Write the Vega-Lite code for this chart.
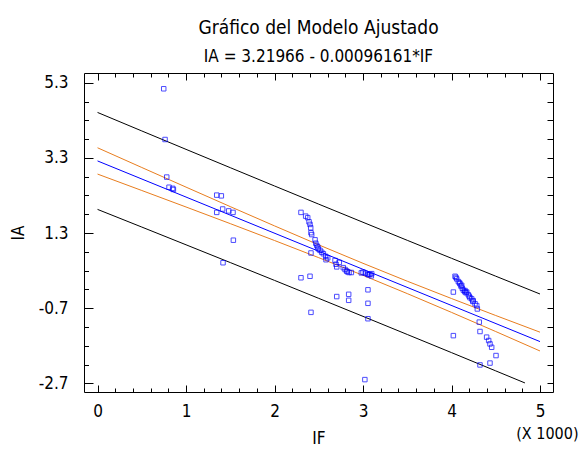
{
  "$schema": "https://vega.github.io/schema/vega-lite/v6.json",
  "width": 469,
  "height": 319,
  "autosize": {"type": "none"},
  "padding": {"left": 84, "top": 73, "right": 28, "bottom": 57},
  "background": "white",
  "title": {
    "text": "Gráfico del Modelo Ajustado",
    "subtitle": "IA = 3.21966 - 0.00096161*IF",
    "font": "Liberation Sans Narrow, DejaVu Sans Condensed, sans-serif",
    "subtitleFont": "Liberation Sans Narrow, DejaVu Sans Condensed, sans-serif",
    "fontSize": 19,
    "subtitleFontSize": 17,
    "fontWeight": "normal",
    "color": "black",
    "subtitleColor": "black",
    "anchor": "middle",
    "frame": "group",
    "offset": 8,
    "subtitlePadding": 11
  },
  "config": {
    "view": {"stroke": "black", "strokeWidth": 1},
    "axis": {
      "domain": false,
      "grid": false,
      "tickColor": "black",
      "tickWidth": 1,
      "labelColor": "black",
      "titleColor": "black",
      "labelFont": "Liberation Sans Narrow, DejaVu Sans Condensed, sans-serif",
      "titleFont": "Liberation Sans Narrow, DejaVu Sans Condensed, sans-serif",
      "labelFontSize": 17,
      "titleFontSize": 17,
      "titleFontWeight": "normal"
    }
  },
  "datasets": {
    "pts": [
      {"IF": 748, "IA": 5.14}, {"IF": 763, "IA": 3.79}, {"IF": 782, "IA": 2.79}, {"IF": 808, "IA": 2.52},
      {"IF": 849, "IA": 2.49}, {"IF": 857, "IA": 2.46}, {"IF": 1347, "IA": 2.31}, {"IF": 1399, "IA": 2.29},
      {"IF": 1347, "IA": 1.85}, {"IF": 1414, "IA": 1.94}, {"IF": 1482, "IA": 1.89}, {"IF": 1531, "IA": 1.85},
      {"IF": 1535, "IA": 1.11}, {"IF": 1418, "IA": 0.51},
      {"IF": 2299, "IA": 1.85}, {"IF": 2352, "IA": 1.75}, {"IF": 2375, "IA": 1.71}, {"IF": 2390, "IA": 1.6},
      {"IF": 2401, "IA": 1.53}, {"IF": 2409, "IA": 1.44}, {"IF": 2412, "IA": 1.31}, {"IF": 2420, "IA": 1.26},
      {"IF": 2458, "IA": 1.12}, {"IF": 2466, "IA": 1.03}, {"IF": 2477, "IA": 0.97}, {"IF": 2488, "IA": 0.93},
      {"IF": 2495, "IA": 0.88}, {"IF": 2514, "IA": 0.84}, {"IF": 2533, "IA": 0.79}, {"IF": 2552, "IA": 0.75},
      {"IF": 2578, "IA": 0.68}, {"IF": 2601, "IA": 0.64}, {"IF": 2582, "IA": 0.59}, {"IF": 2412, "IA": 0.77},
      {"IF": 2299, "IA": 0.11}, {"IF": 2401, "IA": 0.15}, {"IF": 2412, "IA": -0.81},
      {"IF": 2684, "IA": 0.57}, {"IF": 2695, "IA": 0.47}, {"IF": 2703, "IA": 0.4}, {"IF": 2732, "IA": 0.52},
      {"IF": 2777, "IA": 0.38}, {"IF": 2797, "IA": 0.33}, {"IF": 2815, "IA": 0.29}, {"IF": 2823, "IA": 0.27},
      {"IF": 2842, "IA": 0.25}, {"IF": 2868, "IA": 0.25}, {"IF": 2703, "IA": -0.39}, {"IF": 2838, "IA": -0.33},
      {"IF": 2838, "IA": -0.49},
      {"IF": 2981, "IA": 0.24}, {"IF": 3000, "IA": 0.26}, {"IF": 3026, "IA": 0.23}, {"IF": 3053, "IA": 0.2},
      {"IF": 3064, "IA": 0.19}, {"IF": 3079, "IA": 0.2}, {"IF": 3094, "IA": 0.16}, {"IF": 3098, "IA": 0.22},
      {"IF": 3056, "IA": -0.21}, {"IF": 3056, "IA": -0.57}, {"IF": 3056, "IA": -0.98}, {"IF": 3021, "IA": -2.6},
      {"IF": 4040, "IA": 0.15}, {"IF": 4050, "IA": 0.12}, {"IF": 4059, "IA": 0.08}, {"IF": 4077, "IA": 0.01},
      {"IF": 4090, "IA": -0.02}, {"IF": 4096, "IA": -0.05}, {"IF": 4107, "IA": -0.11}, {"IF": 4115, "IA": -0.09},
      {"IF": 4122, "IA": -0.17}, {"IF": 4134, "IA": -0.22}, {"IF": 4149, "IA": -0.26}, {"IF": 4153, "IA": -0.23},
      {"IF": 4164, "IA": -0.29}, {"IF": 4172, "IA": -0.27}, {"IF": 4190, "IA": -0.34}, {"IF": 4200, "IA": -0.38},
      {"IF": 4209, "IA": -0.42}, {"IF": 4228, "IA": -0.45}, {"IF": 4240, "IA": -0.52}, {"IF": 4246, "IA": -0.5},
      {"IF": 4266, "IA": -0.58}, {"IF": 4285, "IA": -0.63}, {"IF": 4292, "IA": -0.72}, {"IF": 4021, "IA": -0.27},
      {"IF": 4314, "IA": -1.07}, {"IF": 4322, "IA": -1.32}, {"IF": 4021, "IA": -1.43}, {"IF": 4397, "IA": -1.47},
      {"IF": 4420, "IA": -1.56}, {"IF": 4435, "IA": -1.65}, {"IF": 4454, "IA": -1.74}, {"IF": 4503, "IA": -1.96},
      {"IF": 4435, "IA": -2.16}, {"IF": 4322, "IA": -2.21}
    ],
    "fit": [
      {"IF": 0, "IA": 3.2197}, {"IF": 5000, "IA": -1.5884}
    ],
    "conf": [
      {"s": "u", "IF": 0, "IA": 3.57}, {"s": "u", "IF": 500, "IA": 3.045}, {"s": "u", "IF": 1000, "IA": 2.523},
      {"s": "u", "IF": 1500, "IA": 2.004}, {"s": "u", "IF": 2000, "IA": 1.491}, {"s": "u", "IF": 2500, "IA": 0.986},
      {"s": "u", "IF": 3000, "IA": 0.495}, {"s": "u", "IF": 3500, "IA": 0.019}, {"s": "u", "IF": 4000, "IA": -0.442},
      {"s": "u", "IF": 4500, "IA": -0.894}, {"s": "u", "IF": 5000, "IA": -1.338},
      {"s": "l", "IF": 0, "IA": 2.87}, {"s": "l", "IF": 500, "IA": 2.433}, {"s": "l", "IF": 1000, "IA": 1.994},
      {"s": "l", "IF": 1500, "IA": 1.551}, {"s": "l", "IF": 2000, "IA": 1.102}, {"s": "l", "IF": 2500, "IA": 0.645},
      {"s": "l", "IF": 3000, "IA": 0.175}, {"s": "l", "IF": 3500, "IA": -0.311}, {"s": "l", "IF": 4000, "IA": -0.811},
      {"s": "l", "IF": 4500, "IA": -1.321}, {"s": "l", "IF": 5000, "IA": -1.838}
    ],
    "pred": [
      {"s": "u", "IF": 0, "IA": 4.51}, {"s": "u", "IF": 500, "IA": 4.018}, {"s": "u", "IF": 1000, "IA": 3.528},
      {"s": "u", "IF": 1500, "IA": 3.04}, {"s": "u", "IF": 2000, "IA": 2.553}, {"s": "u", "IF": 2500, "IA": 2.069},
      {"s": "u", "IF": 3000, "IA": 1.587}, {"s": "u", "IF": 3500, "IA": 1.107}, {"s": "u", "IF": 4000, "IA": 0.629},
      {"s": "u", "IF": 4500, "IA": 0.152}, {"s": "u", "IF": 5000, "IA": -0.322},
      {"s": "l", "IF": 0, "IA": 1.93}, {"s": "l", "IF": 500, "IA": 1.46}, {"s": "l", "IF": 1000, "IA": 0.988},
      {"s": "l", "IF": 1500, "IA": 0.515}, {"s": "l", "IF": 2000, "IA": 0.04}, {"s": "l", "IF": 2500, "IA": -0.438},
      {"s": "l", "IF": 3000, "IA": -0.917}, {"s": "l", "IF": 3500, "IA": -1.399}, {"s": "l", "IF": 4000, "IA": -1.882},
      {"s": "l", "IF": 4500, "IA": -2.368}, {"s": "l", "IF": 4830, "IA": -2.689}
    ]
  },
  "resolve": {"axis": {"x": "independent", "y": "independent"}},
  "layer": [
    {
      "data": {"name": "pred"},
      "mark": {"type": "line", "color": "black", "strokeWidth": 1},
      "encoding": {
        "x": {"field": "IF", "type": "quantitative", "scale": {"domain": [-153, 5147], "nice": false, "zero": false},
          "axis": {"orient": "bottom", "values": [0, 1000, 2000, 3000, 4000, 5000], "labelExpr": "format(datum.value/1000, 'd')", "tickSize": -7, "labelPadding": 18, "title": "IF", "titlePadding": 11}},
        "y": {"field": "IA", "type": "quantitative", "scale": {"domain": [-2.93, 5.56], "nice": false, "zero": false},
          "axis": {"orient": "left", "values": [-2.7, -0.7, 1.3, 3.3, 5.3], "labelExpr": "(datum.value < 0 ? '-' : '') + format(abs(datum.value), '.1f')", "tickSize": -9, "labelPadding": 25, "title": "IA", "titlePadding": 11}},
        "detail": {"field": "s"}
      }
    },
    {
      "data": {"name": "conf"},
      "mark": {"type": "line", "color": "#e87d1e", "strokeWidth": 1},
      "encoding": {
        "x": {"field": "IF", "type": "quantitative", "scale": {"domain": [-153, 5147], "nice": false, "zero": false},
          "axis": {"orient": "bottom", "values": [0, 200, 400, 600, 800, 1000, 1200, 1400, 1600, 1800, 2000, 2200, 2400, 2600, 2800, 3000, 3200, 3400, 3600, 3800, 4000, 4200, 4400, 4600, 4800, 5000], "labels": false, "tickSize": -4, "title": "(X 1000)", "titleFontSize": 16, "titleAnchor": "end", "titleAlign": "right", "titleBaseline": "middle", "titleX": 494, "titleY": 41}},
        "y": {"field": "IA", "type": "quantitative", "scale": {"domain": [-2.93, 5.56], "nice": false, "zero": false},
          "axis": {"orient": "left", "values": [-2.7, -2.2, -1.7, -1.2, -0.7, -0.2, 0.3, 0.8, 1.3, 1.8, 2.3, 2.8, 3.3, 3.8, 4.3, 4.8, 5.3], "labels": false, "tickSize": -4.5, "title": null}},
        "detail": {"field": "s"}
      }
    },
    {
      "data": {"name": "fit"},
      "mark": {"type": "line", "color": "#0000ff", "strokeWidth": 1},
      "encoding": {
        "x": {"field": "IF", "type": "quantitative", "scale": {"domain": [-153, 5147], "nice": false, "zero": false},
          "axis": {"orient": "top", "values": [0, 1000, 2000, 3000, 4000, 5000], "labels": false, "tickSize": -7, "title": null}},
        "y": {"field": "IA", "type": "quantitative", "scale": {"domain": [-2.93, 5.56], "nice": false, "zero": false},
          "axis": {"orient": "right", "values": [-2.7, -2.2, -1.7, -1.2, -0.7, -0.2, 0.3, 0.8, 1.3, 1.8, 2.3, 2.8, 3.3, 3.8, 4.3, 4.8, 5.3], "labels": false, "tickSize": -6, "title": null}}
      }
    },
    {
      "data": {"name": "pts"},
      "mark": {"type": "square", "filled": false, "color": "#0000ff", "size": 20, "strokeWidth": 1},
      "encoding": {
        "x": {"field": "IF", "type": "quantitative", "scale": {"domain": [-153, 5147], "nice": false, "zero": false},
          "axis": {"orient": "top", "values": [0, 200, 400, 600, 800, 1000, 1200, 1400, 1600, 1800, 2000, 2200, 2400, 2600, 2800, 3000, 3200, 3400, 3600, 3800, 4000, 4200, 4400, 4600, 4800, 5000], "labels": false, "tickSize": -4, "title": null}},
        "y": {"field": "IA", "type": "quantitative", "scale": {"domain": [-2.93, 5.56], "nice": false, "zero": false}, "axis": null}
      }
    }
  ]
}
